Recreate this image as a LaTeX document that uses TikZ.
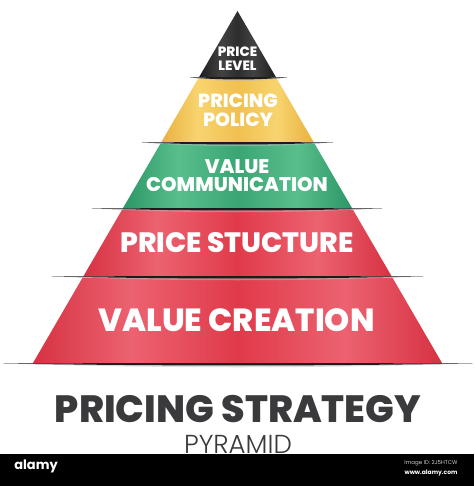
\documentclass[tikz,border=0pt]{standalone}
\usepackage{fontspec}
\setmainfont{Poppins}
\IfFontExistsTF{Poppins ExtraBold}{\newfontfamily\popheavy{Poppins ExtraBold}}{\newcommand\popheavy{\bfseries}}
\IfFontExistsTF{Poppins Light}{\newfontfamily\poplight{Poppins Light}}{\newcommand\poplight{\mdseries}}
\definecolor{redD}{RGB}{214,50,66}
\definecolor{redL}{RGB}{236,98,112}
\definecolor{redB}{RGB}{224,58,74}
\definecolor{grnD}{RGB}{44,150,102}
\definecolor{grnL}{RGB}{88,190,140}
\definecolor{grnB}{RGB}{58,166,116}
\definecolor{ylwD}{RGB}{232,176,64}
\definecolor{ylwL}{RGB}{248,212,110}
\definecolor{ylwB}{RGB}{241,192,80}
\definecolor{blkD}{RGB}{30,30,30}
\definecolor{blkL}{RGB}{66,66,66}
\definecolor{blkB}{RGB}{45,45,45}
\definecolor{titlec}{RGB}{58,58,60}
\definecolor{sepc}{RGB}{28,28,28}
\pgfdeclarehorizontalshading{redsh}{100bp}{color(0bp)=(redD); color(25bp)=(redD); color(37bp)=(redL); color(50bp)=(redB); color(63bp)=(redL); color(75bp)=(redD); color(100bp)=(redD)}
\pgfdeclarehorizontalshading{grnsh}{100bp}{color(0bp)=(grnD); color(25bp)=(grnD); color(37bp)=(grnL); color(50bp)=(grnB); color(63bp)=(grnL); color(75bp)=(grnD); color(100bp)=(grnD)}
\pgfdeclarehorizontalshading{ylwsh}{100bp}{color(0bp)=(ylwD); color(25bp)=(ylwD); color(37bp)=(ylwL); color(50bp)=(ylwB); color(63bp)=(ylwL); color(75bp)=(ylwD); color(100bp)=(ylwD)}
\pgfdeclarehorizontalshading{blksh}{100bp}{color(0bp)=(blkD); color(25bp)=(blkD); color(40bp)=(blkL); color(50bp)=(blkB); color(60bp)=(blkL); color(75bp)=(blkD); color(100bp)=(blkD)}
\newcommand\pyrband[3]{\shade[shading=#3] ({237.5-0.581*(#1-11)},#1) -- ({237.5+0.581*(#1-11)},#1) -- ({237.5+0.581*(#2-11)},#2) -- ({237.5-0.581*(#2-11)},#2) -- cycle;}
\newcommand\sepline[3]{%
  \fill[black!25,opacity=0.5] (#1,#3) .. controls ({#1+(#2-#1)/3},#3+5) and ({#2-(#2-#1)/3},#3+5) .. (#2,#3) -- cycle;
  \fill[sepc] (#1,#3) .. controls ({#1+(#2-#1)/3},#3+2.6) and ({#2-(#2-#1)/3},#3+2.6) .. (#2,#3) .. controls ({#2-(#2-#1)/3},#3-0.6) and ({#1+(#2-#1)/3},#3-0.6) .. (#1,#3) -- cycle;}
\tikzset{
  lbl/.style={text=white, align=center, inner sep=0pt},
  ttl/.style={text=titlec, inner sep=0pt}
}
\begin{document}
\begin{tikzpicture}[x=1pt,y=-1pt]
\useasboundingbox (0,0) rectangle (474,486);
\fill[white] (0,0) rectangle (474,486);
% bands
\shade[shading=blksh] (237.5,11) -- ({237.5+0.581*(77.5-11)},77.5) -- ({237.5-0.581*(77.5-11)},77.5) -- cycle;
\pyrband{78.5}{142.5}{ylwsh}
\pyrband{143.5}{208.5}{grnsh}
\pyrband{209.5}{276.5}{redsh}
\pyrband{277.5}{363.5}{redsh}
% separators
\sepline{190}{287}{77.5}
\sepline{142}{333}{142.5}
\sepline{92}{382}{208.5}
\sepline{52}{423}{276.5}
\sepline{3}{473}{363.5}
% labels
\node[lbl, font=\popheavy\fontsize{13.5}{14}\selectfont] (l1) at (237.5,58.5) {PRICE\\LEVEL};
\node[lbl, font=\popheavy\fontsize{19}{18.5}\selectfont] (l2) at (238,110.5) {PRICING\\POLICY};
\node[lbl, font=\popheavy\fontsize{19.8}{18.5}\selectfont] (l3) at (237,175.5) {VALUE\\COMMUNICATION};
\node[lbl, font=\popheavy\fontsize{28}{30}\selectfont] (l4) at (237,243) {PRICE STUCTURE};
\node[lbl, font=\popheavy\fontsize{32}{34}\selectfont] (l5) at (236.5,320) {VALUE CREATION};
% title
\node[ttl, font=\popheavy\fontsize{38}{40}\selectfont] (t1) at (238,409) {PRICING STRATEGY};
\node[ttl, font=\poplight\fontsize{26}{28}\selectfont] (t2) at (238,444) {PYRAMID};
% bottom bar
\fill[black] (0,454) rectangle (474,486);
\node[text=white, inner sep=0pt, font=\bfseries\fontsize{13}{14}\selectfont] (w1) at (36,466) {alamy};
\node[text=white!80!black, inner sep=0pt, font=\fontsize{5.5}{6}\selectfont] (w2) at (431,463.5) {Image ID: 2J5HTCW};
\node[text=white, inner sep=0pt, font=\bfseries\fontsize{6}{6}\selectfont] (w3) at (431,473) {www.alamy.com};
\end{tikzpicture}
\end{document}
